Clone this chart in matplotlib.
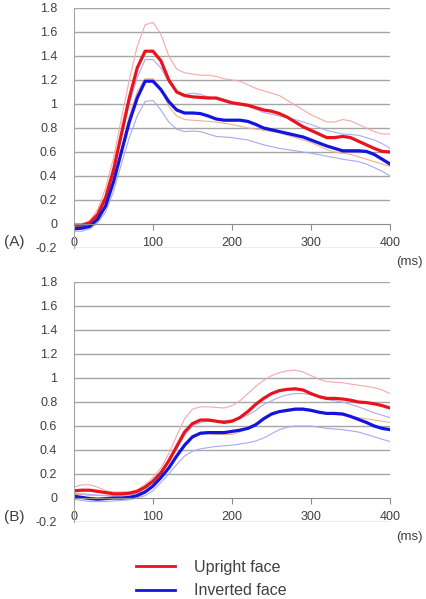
import numpy as np
import matplotlib
matplotlib.use('Agg')
import matplotlib.pyplot as plt
from matplotlib.lines import Line2D

plt.rcParams['font.family'] = ['Liberation Sans', 'DejaVu Sans']

# Données (ms, amplitude)

t = np.arange(0, 401, 10)

## (A)
a_up = [-0.01, -0.01, 0.01, 0.08, 0.22, 0.45, 0.75, 1.05, 1.30, 1.44, 1.44, 1.36, 1.20, 1.10, 1.07,
        1.06, 1.055, 1.05, 1.05, 1.03, 1.01, 1.00, 0.99, 0.97, 0.95, 0.94, 0.92, 0.89, 0.85, 0.81,
        0.78, 0.75, 0.72, 0.72, 0.73, 0.72, 0.69, 0.66, 0.63, 0.605, 0.60]
a_up_hi = [0.0, 0.0, 0.03, 0.12, 0.30, 0.55, 0.88, 1.20, 1.48, 1.66, 1.68, 1.58, 1.40, 1.29, 1.26,
           1.25, 1.24, 1.24, 1.23, 1.21, 1.20, 1.19, 1.16, 1.13, 1.11, 1.09, 1.07, 1.03, 0.99, 0.95,
           0.91, 0.88, 0.85, 0.85, 0.87, 0.86, 0.83, 0.80, 0.77, 0.75, 0.75]
a_up_lo = [-0.03, -0.03, -0.01, 0.05, 0.16, 0.37, 0.63, 0.90, 1.10, 1.21, 1.21, 1.13, 0.98, 0.90, 0.87,
           0.865, 0.86, 0.855, 0.85, 0.84, 0.83, 0.815, 0.80, 0.79, 0.78, 0.77, 0.76, 0.74, 0.72, 0.70,
           0.68, 0.65, 0.62, 0.60, 0.59, 0.58, 0.56, 0.54, 0.52, 0.50, 0.48]
a_inv = [-0.04, -0.035, -0.02, 0.04, 0.15, 0.35, 0.60, 0.85, 1.05, 1.19, 1.19, 1.12, 1.02, 0.95, 0.925,
         0.925, 0.92, 0.90, 0.875, 0.865, 0.865, 0.865, 0.855, 0.83, 0.80, 0.785, 0.77, 0.755, 0.74, 0.725,
         0.70, 0.675, 0.65, 0.63, 0.61, 0.61, 0.61, 0.605, 0.58, 0.54, 0.50]
a_inv_hi = [-0.02, -0.02, 0.0, 0.07, 0.20, 0.45, 0.72, 1.00, 1.22, 1.37, 1.37, 1.30, 1.18, 1.10, 1.08,
            1.09, 1.08, 1.06, 1.04, 1.02, 1.00, 0.99, 0.98, 0.955, 0.93, 0.915, 0.90, 0.885, 0.87, 0.85,
            0.83, 0.805, 0.78, 0.765, 0.75, 0.745, 0.74, 0.72, 0.70, 0.67, 0.63]
a_inv_lo = [-0.06, -0.06, -0.04, 0.01, 0.10, 0.27, 0.50, 0.72, 0.90, 1.02, 1.03, 0.95, 0.85, 0.79, 0.77,
            0.775, 0.77, 0.75, 0.73, 0.725, 0.72, 0.71, 0.70, 0.68, 0.66, 0.645, 0.63, 0.62, 0.61, 0.60,
            0.59, 0.578, 0.565, 0.553, 0.54, 0.53, 0.52, 0.50, 0.47, 0.44, 0.40]

## (B)
b_up = [0.06, 0.065, 0.065, 0.055, 0.045, 0.035, 0.035, 0.04, 0.055, 0.09, 0.14, 0.21, 0.31, 0.43, 0.55,
        0.62, 0.65, 0.65, 0.64, 0.63, 0.64, 0.67, 0.72, 0.78, 0.83, 0.87, 0.895, 0.905, 0.91, 0.90,
        0.87, 0.845, 0.83, 0.83, 0.825, 0.815, 0.80, 0.795, 0.785, 0.77, 0.75]
b_up_hi = [0.09, 0.11, 0.11, 0.09, 0.06, 0.05, 0.05, 0.05, 0.07, 0.11, 0.17, 0.25, 0.37, 0.52, 0.66,
           0.74, 0.76, 0.76, 0.755, 0.75, 0.77, 0.81, 0.87, 0.93, 0.98, 1.02, 1.045, 1.06, 1.065, 1.05,
           1.02, 0.99, 0.97, 0.965, 0.96, 0.95, 0.94, 0.93, 0.92, 0.90, 0.87]
b_up_lo = [0.03, 0.03, 0.02, 0.02, 0.02, 0.02, 0.02, 0.03, 0.04, 0.06, 0.10, 0.17, 0.26, 0.36, 0.45,
           0.50, 0.53, 0.535, 0.53, 0.53, 0.53, 0.55, 0.58, 0.62, 0.66, 0.69, 0.72, 0.74, 0.75, 0.75,
           0.74, 0.72, 0.70, 0.695, 0.69, 0.68, 0.67, 0.66, 0.65, 0.64, 0.63]
b_inv = [0.015, 0.005, -0.005, -0.01, -0.005, 0.0, 0.0, 0.005, 0.02, 0.05, 0.10, 0.17, 0.25, 0.35, 0.44,
         0.51, 0.54, 0.545, 0.545, 0.545, 0.555, 0.565, 0.58, 0.61, 0.66, 0.70, 0.72, 0.73, 0.74, 0.74,
         0.73, 0.715, 0.705, 0.705, 0.70, 0.68, 0.655, 0.63, 0.60, 0.58, 0.57]
b_inv_hi = [0.04, 0.035, 0.03, 0.025, 0.02, 0.02, 0.02, 0.025, 0.04, 0.08, 0.13, 0.20, 0.30, 0.41, 0.52,
            0.60, 0.63, 0.64, 0.64, 0.645, 0.65, 0.665, 0.69, 0.73, 0.78, 0.81, 0.84, 0.86, 0.87, 0.87,
            0.86, 0.84, 0.82, 0.81, 0.80, 0.78, 0.76, 0.735, 0.71, 0.69, 0.67]
b_inv_lo = [-0.01, -0.02, -0.03, -0.03, -0.03, -0.025, -0.02, -0.015, 0.0, 0.02, 0.06, 0.13, 0.20, 0.28, 0.35,
            0.39, 0.41, 0.42, 0.43, 0.435, 0.44, 0.45, 0.46, 0.475, 0.50, 0.535, 0.57, 0.59, 0.60, 0.60,
            0.60, 0.59, 0.58, 0.575, 0.57, 0.56, 0.55, 0.53, 0.51, 0.49, 0.47]

yticks = np.round(np.arange(-0.2, 1.81, 0.2), 1)
ylabels = ['-0.2', '0', '0.2', '0.4', '0.6', '0.8', '1', '1.2', '1.4', '1.6', '1.8']
xticks = [0, 100, 200, 300, 400]

RED = '#e8141c'
BLUE = '#1414e0'
txt = '#404040'

fig = plt.figure(figsize=(4.27, 5.99), dpi=100)
axA = fig.add_axes([74/427, 1-248/599, 316/427, 240/599])
axB = fig.add_axes([74/427, 1-522/599, 316/427, 240/599])


def panel(ax, up, up_hi, up_lo, inv, inv_hi, inv_lo):
    ax.set_xlim(0, 400)
    ax.set_ylim(-0.2, 1.8)
    for y in yticks:
        if y != 0:
            ax.axhline(y, color='#a6a6a6', lw=1, zorder=0)
    ax.plot(t, up_hi, color='#f7a8a8', lw=0.8)
    ax.plot(t, up_lo, color='#f3b08a', lw=0.8)
    ax.plot(t, inv_hi, color='#b0a8f2', lw=0.8)
    ax.plot(t, inv_lo, color='#a8a8f5', lw=0.8)
    ax.plot(t, up, color=RED, lw=2.3, solid_joinstyle='round')
    ax.plot(t, inv, color=BLUE, lw=2.3, solid_joinstyle='round')
    for s in ['top', 'right']:
        ax.spines[s].set_visible(False)
    ax.spines['bottom'].set_position(('data', 0))
    ax.spines['bottom'].set_color('#8c8c8c')
    ax.spines['left'].set_color('#a6a6a6')
    ax.set_yticks(yticks)
    ax.set_yticklabels(ylabels)
    ax.set_xticks(xticks)
    ax.tick_params(axis='y', length=0, pad=12, labelsize=9, labelcolor=txt)
    ax.tick_params(axis='x', length=4, color='#8c8c8c', pad=5, labelsize=9, labelcolor=txt)


panel(axA, a_up, a_up_hi, a_up_lo, a_inv, a_inv_hi, a_inv_lo)
panel(axB, b_up, b_up_hi, b_up_lo, b_inv, b_inv_hi, b_inv_lo)

fig.text(4/427, 1-242/599, '(A)', fontsize=11, color=txt, va='center')
fig.text(4/427, 1-517/599, '(B)', fontsize=11, color=txt, va='center')
fig.text(396/427, 1-262/599, '(ms)', fontsize=9.5, color=txt, va='center')
fig.text(396/427, 1-537/599, '(ms)', fontsize=9.5, color=txt, va='center')

handles = [Line2D([], [], color=RED, lw=2), Line2D([], [], color=BLUE, lw=2)]
fig.legend(handles, ['Upright face', 'Inverted face'], loc='upper left',
           bbox_to_anchor=(136/427, 1-560/599), frameon=False, fontsize=11.5,
           handlelength=2.45, handletextpad=1.15, labelspacing=0.52,
           borderpad=0, borderaxespad=0, labelcolor=txt)

fig.savefig('out.png', dpi=100)
